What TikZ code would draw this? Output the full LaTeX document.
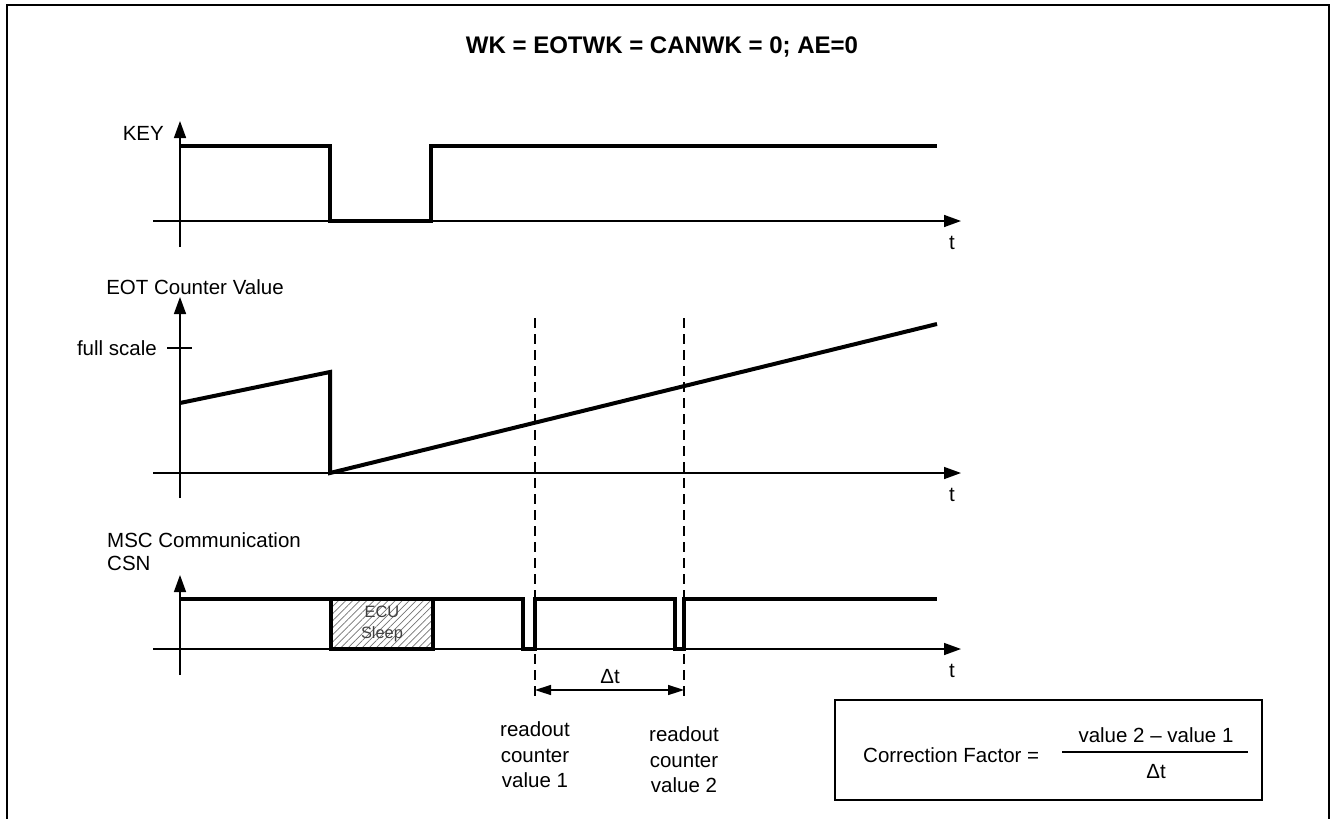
\documentclass[tikz,border=0pt]{standalone}
\usepackage{fontspec}
\setmainfont{Liberation Sans}
\usetikzlibrary{arrows.meta,patterns.meta}
\begin{document}
\begin{tikzpicture}[x=1pt,y=-1pt,
  axis/.style={line width=1.5pt,-{Triangle[length=17pt,width=12pt]}},
  sig/.style={line width=4pt,line join=miter},
  vdash/.style={line width=2pt,dash pattern=on 10pt off 6pt},
  lbl/.style={font=\fontsize{20.5}{25.5}\selectfont,inner sep=0pt,align=center},
  ttl/.style={font=\fontsize{24}{28}\selectfont\bfseries,inner sep=0pt},
  dtarrow/.style={line width=1.5pt,{Triangle[length=16pt,width=10pt]}-{Triangle[length=16pt,width=10pt]}}
]
\useasboundingbox (0,0) rectangle (1331,819);
\draw[line width=2pt] (7,819) -- (7,5) -- (1329,5) -- (1329,819);
\node[ttl] (title) at (662,47) {WK = EOTWK = CANWK = 0; AE=0};

% KEY panel
\draw[axis] (180,247) -- (180,121);
\draw[axis] (153,221) -- (961,221);
\node[lbl,anchor=east] (keylbl) at (164,133) {KEY};
\node[lbl] (kt) at (952,243) {t};
\draw[sig] (180,146) -- (330,146) -- (330,221) -- (431,221) -- (431,146) -- (937,146);

% EOT panel
\draw[axis] (180,498) -- (180,297);
\draw[axis] (153,473) -- (961,473);
\node[lbl] (eotlbl) at (195,287) {EOT Counter Value};
\draw[line width=1.5pt] (167,348) -- (192,348);
\node[lbl,anchor=east] (fs) at (157,348) {full scale};
\node[lbl] (et) at (952,495) {t};
\draw[sig] (180,403) -- (330,372) -- (330,473) -- (937,324);

% dashed readout lines
\coordinate (r1top) at (535,318);
\coordinate (r1bot) at (535,700);
\coordinate (r2top) at (684,318);
\coordinate (r2bot) at (684,700);
\draw[vdash] (r1top) -- (r1bot);
\draw[vdash] (r2top) -- (r2bot);

% MSC panel
\draw[axis] (180,675) -- (180,575);
\draw[axis] (153,649) -- (961,649);
\node[lbl,anchor=west] (msclbl) at (107,540) {MSC Communication};
\node[lbl,anchor=west] (csnlbl) at (107,563) {CSN};
\node[lbl] (mt) at (952,671) {t};
\draw[line width=3.5pt,pattern={Lines[angle=45,distance=5pt,line width=0.7pt]},pattern color=black!55] (331,599) rectangle (433,649);
\node[font=\fontsize{16.4}{21}\selectfont,text=black!75,align=center,inner sep=0pt] (ecu) at (382,624) {ECU\\Sleep};
\draw[sig] (180,599) -- (523,599) -- (523,649) -- (535,649) -- (535,599) -- (675,599) -- (675,649) -- (684,649) -- (684,599) -- (937,599);

% delta t
\coordinate (d1) at (535,690);
\coordinate (d2) at (684,690);
\draw[dtarrow] (d1) -- (d2);
\node[lbl] (dt) at (610,677) {Δt};

\node[lbl] (rv1) at (535,755) {readout\\counter\\value 1};
\node[lbl] (rv2) at (684,760) {readout\\counter\\value 2};

% correction factor box
\draw[line width=1.5pt] (835,700) rectangle (1262,800);
\node[lbl,anchor=west] (cf) at (863,755) {Correction Factor =};
\draw[line width=1.5pt] (1062,752) -- (1248,752);
\node[lbl] (num) at (1156,735) {value 2 – value 1};
\node[lbl] (den) at (1156,772) {Δt};
\end{tikzpicture}
\end{document}
